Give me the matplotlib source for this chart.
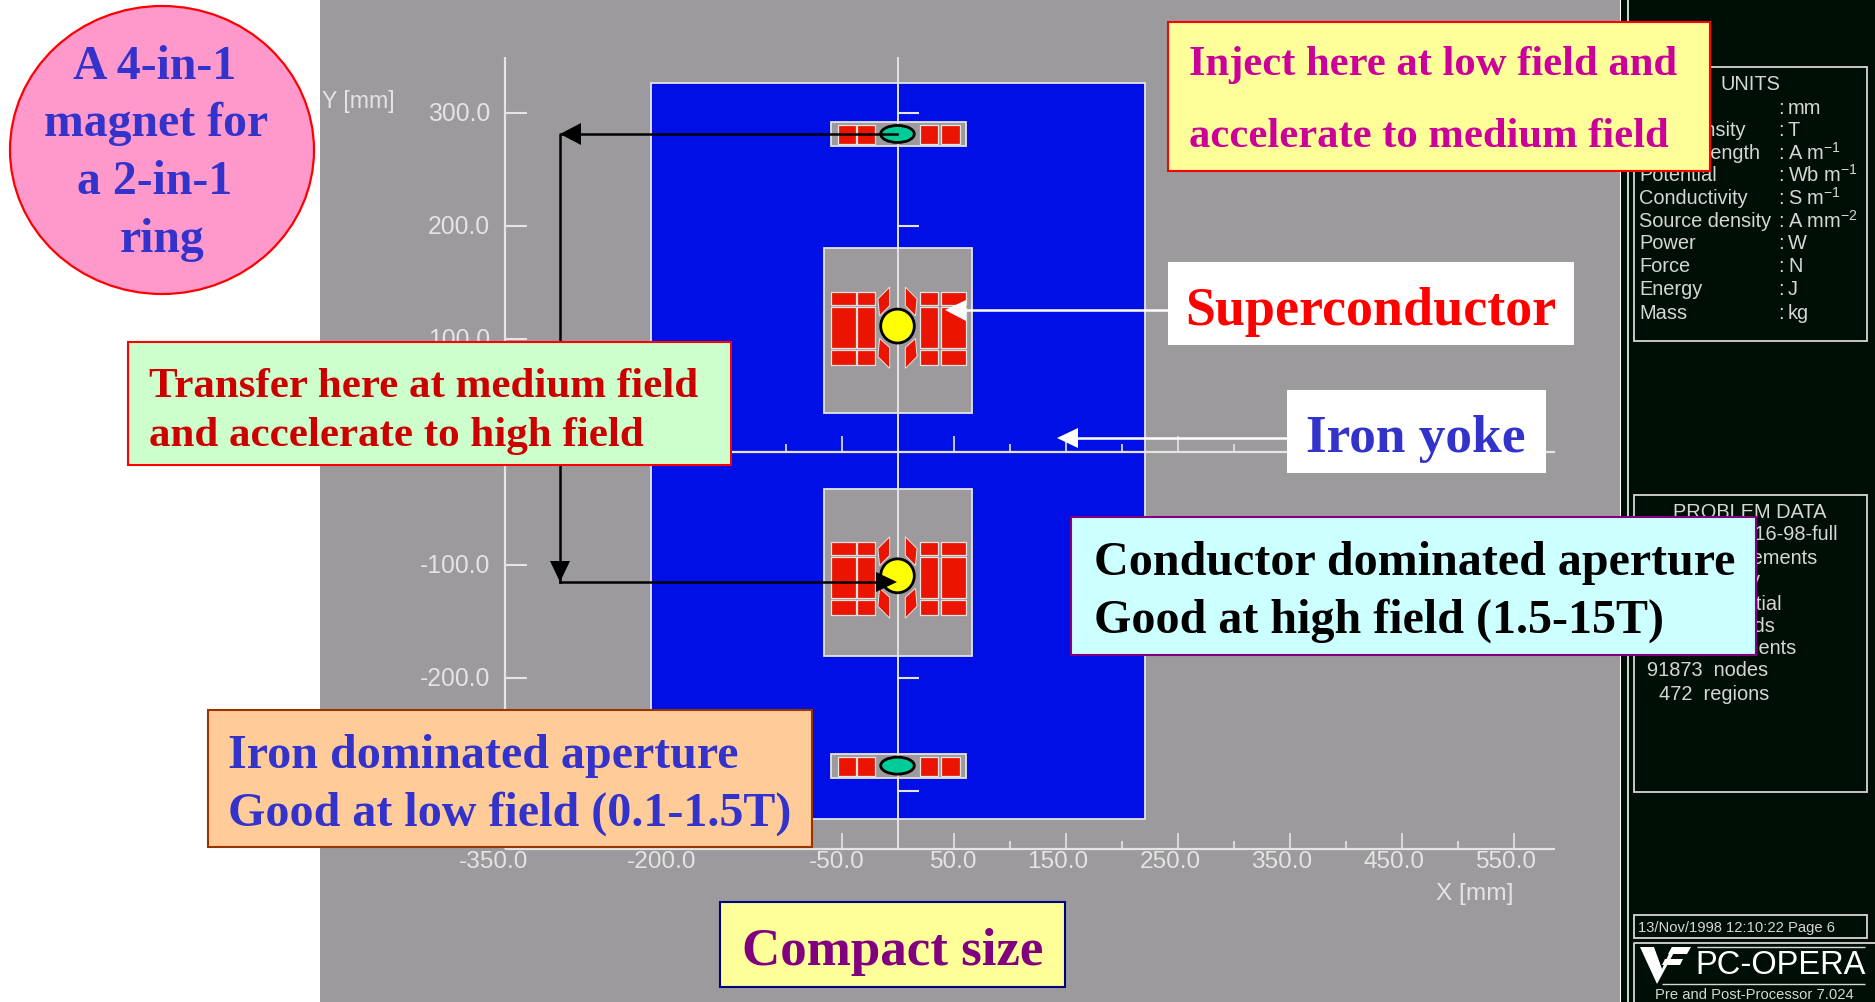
import matplotlib
matplotlib.use('Agg')
import matplotlib.pyplot as plt
import numpy as np
from matplotlib.patches import Rectangle, Ellipse, Polygon

plt.rcParams['font.family'] = ['Liberation Sans', 'DejaVu Sans']
plt.rcParams['mathtext.default'] = 'regular'
SERIF = 'Liberation Serif'

# model geometry, all in mm
yoke_x = [-220, 221]
yoke_y = [-325, 326]
window_x = [-65.6, 66.5]
window_y_upper = [34, 180]
window_y_lower = [-181, -33]
aperture_y = [111, -110]
aperture_r = 15
small_y = [281, -278]
small_box_x = [-59.6, 61]
small_box_dy = [-11, 10.5]
small_ellipse_size = [30, 15]

# coil blocks: x columns and y rows relative to the aperture centre
coil_cols = [(-59.2, -37.4), (-36.2, -20), (20.2, 36.3), (39, 61)]
coil_rows = [(18.5, 30), (-19.5, 16.5), (-34.5, -21.5)]
small_cols = [(-53, -37.4), (-36.2, -20), (20.2, 36.3), (39, 55.5)]
small_rows = (-9, 7.5)
wedge_up = [(-17.5, 24), (-7, 34.5), (-7, 18), (-16, 9)]
wedge_down = [(-17.5, -27), (-7, -37.5), (-7, -19), (-16, -11)]

# axes
x_major = [-350, -250, -150, -50, 50, 150, 250, 350, 450, 550]
x_minor = [-300, -200, -100, 100, 200, 300, 400, 500]
x_labels = ['-350.0', '-200.0', '-50.0', '50.0', '150.0', '250.0', '350.0', '450.0', '550.0']
x_label_pos = [-350, -200, -50, 50, 150, 250, 350, 450, 550]
y_ticks = [300, 200, 100, -100, -200, -300]
y_labels = ['300.0', '200.0', '100.0', '-100.0', '-200.0']
y_center_ticks = [300, 200, -200, -300]

# side panel text
units_left = ['Length', 'Flux density', 'Field strength', 'Potential', 'Conductivity',
              'Source density', 'Power', 'Force', 'Energy', 'Mass']
units_right = ['mm', 'T', 'A m$^{-1}$', 'Wb m$^{-1}$', 'S m$^{-1}$', 'A mm$^{-2}$',
               'W', 'N', 'J', 'kg']
units_py = [108, 130, 153, 175, 198, 221, 243, 266, 289, 313]
problem_lines = ['11-16-98-full', 'elements', 'symmetry', 'potential', 'fields', 'elements',
                 '91873  nodes', '472  regions']
problem_right = [1838, 1817, 1760, 1782, 1776, 1796, 1768, 1769]
problem_py = [535, 558, 580, 604, 627, 649, 671, 694]

GRAY = '#9c9a9c'
BLUE = '#000fe6'
RED = '#ea1400'
LINE = '#e4e4e4'
PANEL = '#000f05'
PANEL_TXT = '#d6d6d6'

fig = plt.figure(figsize=(18.75, 10.03), dpi=100, facecolor='white')

# model axes: mm scale
ax = fig.add_axes([0, 0, 1, 1])
ax.set_xlim(-897.5 / 1.12, (1875 - 897.5) / 1.12)
ax.set_ylim((452.5 - 1003) / 1.13, 452.5 / 1.13)
ax.axis('off')
ax.add_patch(Rectangle((-897.5 / 1.12 + 320 / 1.12, -600), 1300 / 1.12, 1200, fc=GRAY, ec='none', zorder=0))

ax.add_patch(Rectangle((yoke_x[0], yoke_y[0]), yoke_x[1] - yoke_x[0], yoke_y[1] - yoke_y[0],
                       fc=BLUE, ec=LINE, lw=1.3, zorder=1))

for wy in (window_y_upper, window_y_lower):
    ax.add_patch(Rectangle((window_x[0], wy[0]), window_x[1] - window_x[0], wy[1] - wy[0],
                           fc=GRAY, ec=LINE, lw=1.3, zorder=2))

# main coils
for cy in aperture_y:
    for c in coil_cols:
        for r in coil_rows:
            ax.add_patch(Rectangle((c[0], cy + r[0]), c[1] - c[0], r[1] - r[0],
                                   fc=RED, ec=LINE, lw=0.9, zorder=3))
    for w in (wedge_up, wedge_down):
        for sign in (1, -1):
            ax.add_patch(Polygon([(sign * px, cy + py) for px, py in w], closed=True,
                                 fc=RED, ec=LINE, lw=0.7, zorder=3))

# low field apertures
for cy in small_y:
    ax.add_patch(Rectangle((small_box_x[0], cy + small_box_dy[0]), small_box_x[1] - small_box_x[0],
                           small_box_dy[1] - small_box_dy[0], fc=GRAY, ec=LINE, lw=1.3, zorder=2))
    for c in small_cols:
        ax.add_patch(Rectangle((c[0], cy + small_rows[0]), c[1] - c[0], small_rows[1] - small_rows[0],
                               fc=RED, ec=LINE, lw=0.9, zorder=3))

# axis lines and ticks
ax.vlines(0, -351.5, 349, color=LINE, lw=1.4, zorder=4)
ax.vlines(-350, -351.5, 349, color=LINE, lw=1.6, zorder=4)
ax.hlines([0, -351.5], -350, 587, color=LINE, lw=1.6, zorder=4)
for base in (0, -351.5):
    ax.vlines(x_major, base, base + 14, color=LINE, lw=1.2, zorder=4)
    ax.vlines(x_minor, base, base + 7, color=LINE, lw=1.2, zorder=4)
ax.hlines(y_ticks, -350, -331, color=LINE, lw=1.5, zorder=4)
ax.hlines(y_center_ticks, 0, 19, color=LINE, lw=1.5, zorder=4)

for v, s in zip(x_label_pos, x_labels):
    ax.annotate(s, (v, -351.5), xytext=(16.5, -9), textcoords='offset points', ha='right',
                va='center', fontsize=17.6, color=LINE, zorder=4)
for v, s in zip(y_ticks, y_labels):
    ax.annotate(s, (-350, v), xytext=(-11, -0.7), textcoords='offset points', ha='right',
                va='center', fontsize=17.8, color=LINE, zorder=4)
ax.text(-514, 311, 'Y [mm]', fontsize=16.7, color=LINE, ha='left', va='center', zorder=4)
ax.text(481, -391, 'X [mm]', fontsize=17.6, color=LINE, ha='left', va='center', zorder=4)

# beam pipes on top of the axes
for cy in aperture_y:
    ax.add_patch(Ellipse((0, cy), 2 * aperture_r, 2 * aperture_r, fc='#ffff00', ec='black', lw=2, zorder=5))
for cy in small_y:
    ax.add_patch(Ellipse((0, cy), small_ellipse_size[0], small_ellipse_size[1], fc='#00cc99',
                         ec='black', lw=2, zorder=5))

# slide overlay in pixels
ov = fig.add_axes([0, 0, 1, 1])
ov.set_xlim(0, 1875)
ov.set_ylim(1003, 0)
ov.axis('off')
ov.patch.set_alpha(0)

# side panel
ov.add_patch(Rectangle((1621, 0), 254, 1003, fc=PANEL, ec='none', zorder=1))
ov.vlines(1628, 0, 1003, color=LINE, lw=1.3, zorder=2)
for x0, y0, x1, y1 in [(1634, 68, 1867, 342), (1634, 496, 1867, 793), (1634, 916, 1867, 939)]:
    ov.add_patch(Rectangle((x0, y0), x1 - x0, y1 - y0, fc='none', ec=PANEL_TXT, lw=1.3, zorder=2))
ov.plot([1875, 1634, 1634], [944, 944, 1003], color=PANEL_TXT, lw=1.3, zorder=2)

PF = 14.4
ov.text(1750, 84, 'UNITS', color=PANEL_TXT, fontsize=PF, ha='center', va='center', zorder=3)
for s, r, y in zip(units_left, units_right, units_py):
    ov.text(1639, y, s, color=PANEL_TXT, fontsize=PF, va='center', zorder=3)
    ov.text(1778, y, ':', color=PANEL_TXT, fontsize=PF, va='center', zorder=3)
    ov.text(1788, y, r, color=PANEL_TXT, fontsize=PF, va='center', zorder=3)
ov.text(1750, 512, 'PROBLEM DATA', color=PANEL_TXT, fontsize=PF, ha='center', va='center', zorder=3)
for s, x, y in zip(problem_lines, problem_right, problem_py):
    ov.text(x, y, s, color=PANEL_TXT, fontsize=PF, ha='right', va='center', zorder=3)
ov.text(1638, 928, '13/Nov/1998 12:10:22 Page 6', color=PANEL_TXT, fontsize=10.6, va='center', zorder=3)
ov.text(1781, 966, 'PC-OPERA', color='white', fontsize=23.5, ha='center', va='center', zorder=3)
ov.text(1754, 995, 'Pre and Post-Processor 7.024', color=PANEL_TXT, fontsize=10.6, ha='center', va='center', zorder=3)
ov.hlines(948, 1697, 1865, color=PANEL_TXT, lw=1, zorder=3)
ov.hlines(985, 1662, 1865, color=PANEL_TXT, lw=1, zorder=3)
logo_v = [(1640, 948), (1654, 948), (1662, 970), (1672, 948), (1677, 948), (1657, 985)]
logo_f1 = [(1672, 948), (1691, 948), (1687, 955), (1668, 955)]
logo_f2 = [(1665, 960), (1683, 960), (1680, 966), (1662, 966)]
for poly in (logo_v, logo_f1, logo_f2):
    ov.add_patch(Polygon(poly, closed=True, fc='white', ec='none', zorder=3))

# arrows
ov.plot([897, 560, 560], [135, 135, 583], color='black', lw=1.8, zorder=6)
ov.plot([560, 880], [583, 583], color='black', lw=1.8, zorder=6)
ov.add_patch(Polygon([(560, 135), (581, 124), (581, 146)], closed=True, fc='black', ec='none', zorder=6))
ov.add_patch(Polygon([(560, 583), (550, 562), (570, 562)], closed=True, fc='black', ec='none', zorder=6))
ov.add_patch(Polygon([(897, 583), (876, 573), (876, 593)], closed=True, fc='black', ec='none', zorder=6))
ov.plot([960, 1170], [311, 311], color='white', lw=1.8, zorder=6)
ov.add_patch(Polygon([(945, 311), (966, 301), (966, 322)], closed=True, fc='white', ec='none', zorder=6))
ov.plot([1075, 1290], [439, 439], color='white', lw=1.8, zorder=6)
ov.add_patch(Polygon([(1057, 439), (1078, 429), (1078, 449)], closed=True, fc='white', ec='none', zorder=6))

# callouts
ov.add_patch(Ellipse((162, 151), 304, 288, fc='#ff99cc', ec='#ff0000', lw=1.6, zorder=7))
for s, x, y in [('A 4-in-1', 155, 79), ('magnet for', 156, 136), ('a 2-in-1', 155, 194), ('ring', 162, 252)]:
    ov.text(x, y, s, family=SERIF, weight='bold', fontsize=34.4, color='#3333cc', ha='center',
            va='baseline', zorder=8)


def callout(x0, y0, x1, y1, fc, ec, lw=1.5):
    ov.add_patch(Rectangle((x0, y0), x1 - x0, y1 - y0, fc=fc, ec=ec, lw=lw, zorder=7))


def line(x, y, s, size, color, ha='left'):
    ov.text(x, y, s, family=SERIF, weight='bold', fontsize=size, color=color, ha=ha, va='baseline', zorder=8)


callout(1168, 23, 1710, 172, '#ffff99', '#ff0000')
line(1189, 75, 'Inject here at low field and', 30.7, '#cc0099')
line(1189, 147, 'accelerate to medium field', 30.7, '#cc0099')

callout(1168, 263, 1574, 346, 'white', 'none', 0)
line(1371, 325, 'Superconductor', 38.9, '#ff0000', ha='center')

callout(1287, 391, 1546, 474, 'white', 'none', 0)
line(1416, 452, 'Iron yoke', 38.4, '#3333cc', ha='center')

callout(128, 343, 731, 466, '#ccffcc', '#ff0000')
line(149, 397, 'Transfer here at medium field', 31, '#cc0000')
line(149, 446, 'and accelerate to high field', 31, '#cc0000')

callout(1071, 518, 1756, 656, '#ccffff', '#800080')
line(1094, 575, 'Conductor dominated aperture', 34.6, 'black')
line(1094, 633, 'Good at high field (1.5-15T)', 34.6, 'black')

callout(208, 711, 812, 848, '#ffcc99', '#993300')
line(228, 768, 'Iron dominated aperture', 34.6, '#3333cc')
line(228, 826, 'Good at low field (0.1-1.5T)', 34.6, '#3333cc')

callout(720, 903, 1065, 988, '#ffff99', '#000080')
line(893, 965, 'Compact size', 38.2, '#800080', ha='center')

fig.savefig('out.png', dpi=100)
